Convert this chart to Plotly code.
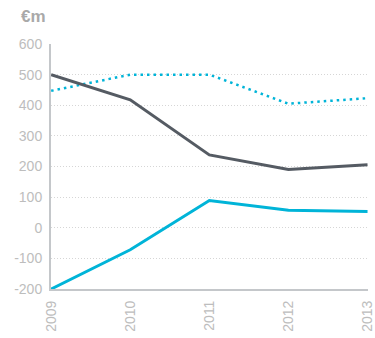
import plotly.graph_objects as go

years = ["2009", "2010", "2011", "2012", "2013"]
series_dark = [500, 418, 238, 190, 206]
series_cyan = [-200, -72, 89, 57, 53]
series_dotted = [447, 500, 500, 405, 423]
y_ticks = [-200, -100, 0, 100, 200, 300, 400, 500, 600]
y_tick_labels = [str(v) for v in y_ticks]

x = list(range(len(years)))

fig = go.Figure()
fig.add_trace(go.Scatter(x=x, y=series_dotted, mode="lines",
                         line=dict(color="#00b4d8", width=2.5, dash="2.5px,4px")))
fig.add_trace(go.Scatter(x=x, y=series_dark, mode="lines",
                         line=dict(color="#555b63", width=3)))
fig.add_trace(go.Scatter(x=x, y=series_cyan, mode="lines",
                         line=dict(color="#00b4d8", width=3)))

fig.update_layout(
    width=375, height=338,
    margin=dict(l=51, r=7, t=44, b=49),
    paper_bgcolor="white", plot_bgcolor="white",
    showlegend=False,
    font=dict(family="Liberation Sans, Arial, sans-serif", color="#bdbdbd", size=14),
    annotations=[dict(text="<b>€m</b>", xref="paper", yref="paper", x=-0.1, y=1.065,
                      xanchor="left", yanchor="bottom", showarrow=False,
                      font=dict(size=17, color="#a9a9a9"))],
    xaxis=dict(range=[-0.002, 4.006], tickvals=x, ticktext=years, tickangle=-90,
               showgrid=False, zeroline=False, showline=True, linecolor="#c4c7ca",
               linewidth=2, ticks="", ticklabelstandoff=4, ticklabeloverflow="allow",
               automargin=False),
    yaxis=dict(range=[-200, 600], tickvals=y_ticks, ticktext=y_tick_labels,
               showgrid=True, gridcolor="#d6d6d6", griddash="1px,2px", gridwidth=1,
               zeroline=False, showline=True, linecolor="#c4c7ca", linewidth=2,
               ticks="", ticklabelstandoff=4, automargin=False),
)

fig.write_html("out.html")
